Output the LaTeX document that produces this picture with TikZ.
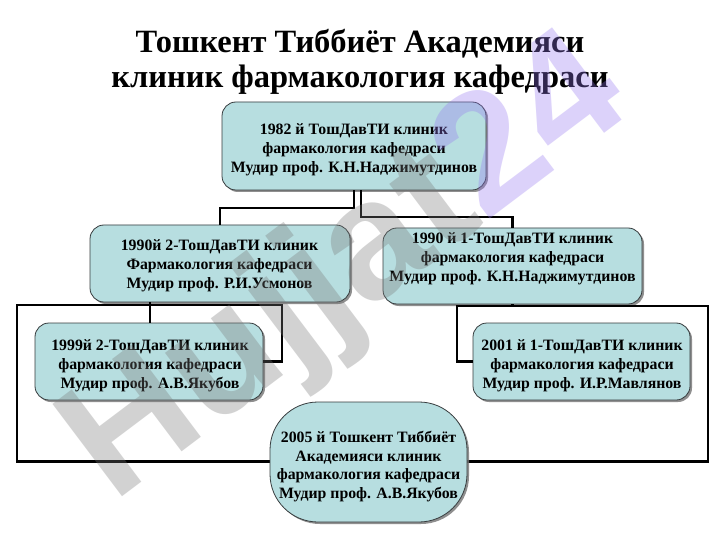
\documentclass[tikz,border=0pt]{standalone}
\usepackage{fontspec}
\setmainfont{Liberation Serif}
\newfontfamily\wmfont{Liberation Sans}
\usetikzlibrary{shadows}
\definecolor{boxfill}{RGB}{183,222,224}
\definecolor{boxline}{RGB}{55,60,62}
\definecolor{wmgray}{RGB}{120,120,120}
\definecolor{wmlav}{RGB}{150,120,240}
\tikzset{
  orgbox/.style={draw=boxline, line width=0.8pt, fill=boxfill, rounded corners=14pt,
    inner sep=0pt,
    drop shadow={shadow xshift=2pt, shadow yshift=-2pt, fill=black!55, opacity=0.8}},
  boxtext/.style={align=center, inner sep=0pt, font=\fontsize{15.8}{19}\selectfont\bfseries},
  conn/.style={draw=black, line width=2.3pt, line join=miter},
}
\begin{document}
\begin{tikzpicture}[x=1pt,y=-1pt]
\useasboundingbox (0,0) rectangle (720,540);
\fill[white] (0,0) rectangle (720,540);

\node[align=center, font=\fontsize{32.5}{35}\selectfont\bfseries] (title) at (360,62)
  {Тошкент Тиббиёт Академияси\\клиник фармакология кафедраси};

% junction coordinates
\coordinate (j1) at (354,208);
\coordinate (j2) at (361,217);
\coordinate (j3) at (150,305);
\coordinate (k4) at (282,305);
\coordinate (k5) at (17,305);
\coordinate (j6) at (512.5,306);
\coordinate (k6) at (457,306);
\coordinate (k7) at (708,306);

% boxes
\node[orgbox, minimum width=264pt, minimum height=88pt] (b1) at (354,146) {};
\node[orgbox, minimum width=260pt, minimum height=77pt] (b2) at (220,263.5) {};
\node[orgbox, minimum width=259pt, minimum height=76pt] (b3) at (512.5,266) {};
\node[orgbox, minimum width=228pt, minimum height=77pt] (b4) at (149,361.5) {};
\node[orgbox, minimum width=217pt, minimum height=77pt] (b5) at (581.5,361.5) {};

\node[boxtext] (t1) at (354,150)
  {1982 й ТошДавТИ клиник\\фармакология кафедраси\\Мудир проф. К.Н.Наджимутдинов};
\node[boxtext] (t2) at (219.5,266)
  {1990й 2-ТошДавТИ клиник\\Фармакология кафедраси\\Мудир проф. Р.И.Усмонов};
\node[boxtext] (t3) at (512.5,258.5)
  {1990 й 1-ТошДавТИ клиник\\фармакология кафедраси\\Мудир проф. К.Н.Наджимутдинов};
\node[boxtext] (t4) at (150,365.5)
  {1999й 2-ТошДавТИ клиник\\фармакология кафедраси\\Мудир проф. А.В.Якубов};
\node[boxtext] (t5) at (582,365.5)
  {2001 й 1-ТошДавТИ клиник\\фармакология кафедраси\\Мудир проф. И.Р.Мавлянов};

% connectors
\draw[conn] (b1.south -| j1) -- (j1) -| (b2.north);
\draw[conn] (b1.south -| j2) -- (j2) -| (b3.north);
\draw[conn] (b2.south -| j3) -- (b4.north -| j3);
\draw[conn] (j3) -- (k4) |- (b4.east);
\draw[conn] (j3) -- (k5) |- (368,461.5);
\draw[conn] (b3.south) -- (j6) -- (k6) |- (b5.west);
\draw[conn] (j6) -- (k7) |- (368,461.5);

\node[orgbox, rounded corners=48pt, minimum width=197pt, minimum height=120pt] (b6) at (368.5,462) {};
\node[boxtext, font=\fontsize{15.8}{18.7}\selectfont\bfseries] (t6) at (368.5,466.5)
  {2005 й Тошкент Тиббиёт\\Академияси клиник\\фармакология кафедраси\\Мудир проф. А.В.Якубов};

% watermark
\node[rotate=37, opacity=0.33, text opacity=0.33, inner sep=0pt,
  font=\fontsize{168}{168}\selectfont\wmfont\bfseries] (wm) at (348,272)
  {\textcolor{wmgray}{Hujjat}\textcolor{wmlav}{24}};
\end{tikzpicture}
\end{document}
